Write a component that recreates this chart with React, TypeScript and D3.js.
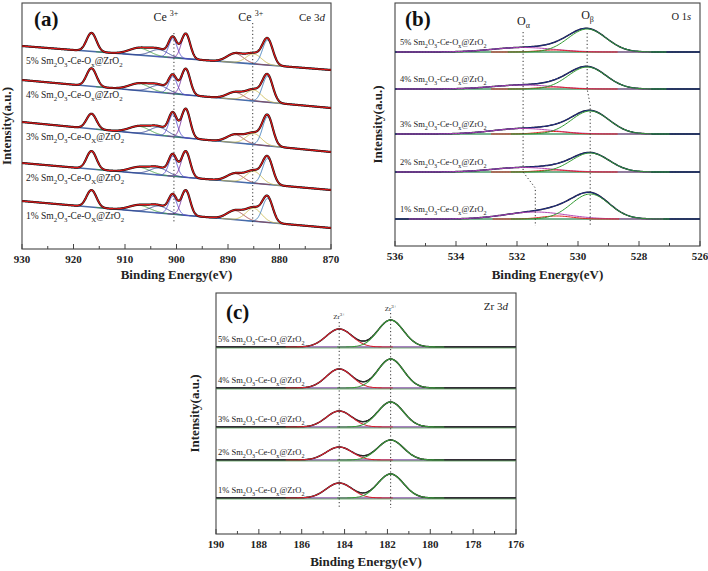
import React from "react";
import * as d3 from "d3";

const FONT = "Liberation Serif, DejaVu Serif, serif";

const samples = ["5%", "4%", "3%", "2%", "1%"];
const ceSubX = ["x", "x", "X", "X", "X"];

// ---------- (a) Ce 3d ----------
const ceTicks = [930, 920, 910, 900, 890, 880, 870];
const ceMinor = [925, 915, 905, 895, 885, 875];
const ceCenters = [916.5, 907.2, 903.4, 900.7, 898.2, 888.6, 885.0, 882.3];
const ceSigmas = [0.95, 2.0, 1.7, 0.8, 0.85, 1.6, 1.5, 1.0];
const ceColors = ["#c23fb8", "#3f9f3f", "#2f3f8f", "#5a4fd0", "#7a2f9f", "#9f3f3f", "#c8b84a", "#3a78b8"];
const ceHeights = [
  [18.5, 7, 7, 19, 25, 9, 10, 25],
  [18, 7, 7, 17, 26, 7, 11, 26],
  [15, 7, 8, 22, 29, 8, 11, 29],
  [18, 6, 7, 20, 26, 8, 12, 26],
  [17, 6, 7, 18, 25, 9, 13, 24],
];
const ceBaseHigh = [203, 169, 127, 86, 48];
const ceBaseLow = [179, 141, 97, 59, 21];
const ceDotted = [900.5, 885.2];

// ---------- (b) O 1s ----------
const oTicks = [536, 534, 532, 530, 528, 526];
const oMinor = [535, 533, 531, 529, 527];
const oBase = [194, 157, 112, 74, 27];
const oBetaCenter = [529.7, 529.7, 529.6, 529.6, 529.6];
const oBetaHeight = [23, 22, 23, 19, 25];
const oAlphaCenter = [531.8, 531.8, 531.8, 531.8, 531.4];
const oAlphaHeight = [4.5, 4, 5.5, 4.5, 7];
const oMidCenter = [530.8, 530.8, 530.8, 530.8, 530.7];
const oMidHeight = [2, 2, 2.5, 2, 3];

// ---------- (c) Zr 3d ----------
const zrTicks = [190, 188, 186, 184, 182, 180, 178, 176];
const zrMinor = [189, 187, 185, 183, 181, 179, 177];
const zrBase = [187, 146, 107, 74, 36];
const zr32Center = 184.25;
const zr52Center = 181.85;
const zr32Height = [18, 19, 16, 13, 15];
const zr52Height = [27, 29, 25, 20, 24];

type Comp = { c: number; s: number; h: number; color: string };

const gauss = (e: number, c: Comp) => c.h * Math.exp(-((e - c.c) ** 2) / (2 * c.s * c.s));

function Spectrum(props: {
  xs: d3.ScaleLinear<number, number>;
  ys: d3.ScaleLinear<number, number>;
  eHigh: number;
  eLow: number;
  b0: number;
  b1: number;
  comps: Comp[];
  baseColor: string;
  baseWidth: number;
  fitColor: string;
  fitWidth: number;
  dataWidth: number;
  compWidth: number;
  compsOnTop?: boolean;
}) {
  const { xs, ys, eHigh, eLow, b0, b1, comps } = props;
  const base = (e: number) => b0 + ((b1 - b0) * (eHigh - e)) / (eHigh - eLow);
  const grid = d3.range(eLow, eHigh + 0.001, 0.05);
  const total = (e: number) => base(e) + comps.reduce((a, c) => a + gauss(e, c), 0);
  const line = d3
    .line<number>()
    .x((e) => xs(e))
    .y((e) => ys(total(e)));
  const compPaths = comps.map((c, i) => {
    const g = grid.filter((e) => Math.abs(e - c.c) < 4.2 * c.s);
    const l = d3
      .line<number>()
      .x((e) => xs(e))
      .y((e) => ys(base(e) + gauss(e, c)));
    return <path key={i} d={l(g) || ""} fill="none" stroke={c.color} strokeWidth={props.compWidth} />;
  });
  return (
    <g>
      <line x1={xs(eHigh)} x2={xs(eLow)} y1={ys(b0)} y2={ys(b1)} stroke={props.baseColor} strokeWidth={props.baseWidth} />
      {!props.compsOnTop && compPaths}
      <path d={line(grid) || ""} fill="none" stroke="#111" strokeWidth={props.dataWidth} />
      <path d={line(grid) || ""} fill="none" stroke={props.fitColor} strokeWidth={props.fitWidth} />
      {props.compsOnTop && compPaths}
    </g>
  );
}

function SampleLabel(props: { x: number; y: number; pct: string; sub: string; fs: number }) {
  const { x, y, pct, sub, fs } = props;
  const sfs = fs * 0.72;
  const d = fs * 0.3;
  return (
    <text x={x} y={y} fontSize={fs} fontFamily={FONT} fill="#222">
      <tspan fontSize={fs}>{pct} Sm</tspan>
      <tspan fontSize={sfs} dy={d}>2</tspan>
      <tspan fontSize={fs} dy={-d}>O</tspan>
      <tspan fontSize={sfs} dy={d}>3</tspan>
      <tspan fontSize={fs} dy={-d}>-Ce-O</tspan>
      <tspan fontSize={sfs} dy={d}>{sub}</tspan>
      <tspan fontSize={fs} dy={-d}>@ZrO</tspan>
      <tspan fontSize={sfs} dy={d}>2</tspan>
    </text>
  );
}

function Axis(props: {
  xs: d3.ScaleLinear<number, number>;
  ys: d3.ScaleLinear<number, number>;
  ticks: number[];
  minor: number[];
  title: string;
  titleY: number;
  ylabelX: number;
}) {
  const { xs, ys, ticks, minor } = props;
  const [x0, x1] = xs.range();
  const [yb, yt] = ys.range();
  return (
    <g fontFamily={FONT}>
      <rect x={x0} y={yt} width={x1 - x0} height={yb - yt} fill="none" stroke="#444" strokeWidth={1.1} />
      {ticks.map((t) => (
        <g key={"t" + t}>
          <line x1={xs(t)} x2={xs(t)} y1={yb} y2={yb - 5} stroke="#444" strokeWidth={1} />
          <text x={xs(t)} y={yb + 14} fontFamily={FONT} fontSize={11} fontWeight="bold" textAnchor="middle" fill="#222">
            {t}
          </text>
        </g>
      ))}
      {minor.map((t) => (
        <line key={"m" + t} x1={xs(t)} x2={xs(t)} y1={yb} y2={yb - 3} stroke="#444" strokeWidth={1} />
      ))}
      <text x={(x0 + x1) / 2} y={props.titleY} fontFamily={FONT} fontSize={13} fontWeight="bold" textAnchor="middle" fill="#222">
        {props.title}
      </text>
      <text
        transform={`translate(${props.ylabelX},${(yb + yt) / 2}) rotate(-90)`}
        fontFamily={FONT}
        fontSize={13}
        fontWeight="bold"
        textAnchor="middle"
        fill="#222"
      >
        Intensity(a.u.)
      </text>
    </g>
  );
}

function dottedPath(
  xs: d3.ScaleLinear<number, number>,
  ys: d3.ScaleLinear<number, number>,
  centers: number[],
  bases: number[],
  top: number,
  bottom: number,
  jog: number
) {
  const pts: [number, number][] = [[centers[0], top]];
  for (let i = 1; i < centers.length; i++) {
    if (centers[i] !== centers[i - 1]) {
      pts.push([centers[i - 1], bases[i - 1]]);
      pts.push([centers[i], bases[i - 1] - jog]);
    }
  }
  pts.push([centers[centers.length - 1], bottom]);
  return (
    d3
      .line<[number, number]>()
      .x((p) => xs(p[0]))
      .y((p) => ys(p[1]))(pts) || ""
  );
}

export default function App() {
  const xa = d3.scaleLinear().domain([930, 870]).range([22, 331]);
  const ya = d3.scaleLinear().domain([0, 246]).range([249, 3]);
  const xb = d3.scaleLinear().domain([536, 526]).range([395, 700]);
  const yb = d3.scaleLinear().domain([0, 243]).range([246, 3]);
  const xc = d3.scaleLinear().domain([190, 176]).range([216, 516]);
  const yc = d3.scaleLinear().domain([0, 241]).range([534, 293]);

  const dot = { stroke: "#333", strokeWidth: 1, strokeDasharray: "1.2,2.4", fill: "none" };

  return (
    <svg
      width={708}
      height={571}
      fontFamily={FONT}
      style={{ position: "absolute", left: 0, top: 0, background: "#fff", fontFamily: FONT }}
    >
      {/* ---------- (a) ---------- */}
      <Axis xs={xa} ys={ya} ticks={ceTicks} minor={ceMinor} title="Binding Energy(eV)" titleY={279} ylabelX={11} />
      {samples.map((s, i) => (
        <Spectrum
          key={"a" + s}
          xs={xa}
          ys={ya}
          eHigh={930}
          eLow={870}
          b0={ceBaseHigh[i]}
          b1={ceBaseLow[i]}
          comps={ceCenters.map((c, k) => ({ c, s: ceSigmas[k], h: ceHeights[i][k], color: ceColors[k] }))}
          baseColor="#4a6aa8"
          baseWidth={1.6}
          fitColor="#e01818"
          fitWidth={1.2}
          dataWidth={2.2}
          compWidth={0.9}
        />
      ))}
      {samples.map((s, i) => (
        <SampleLabel key={"la" + s} x={26} y={ya(ceBaseHigh[i]) + 18} pct={s} sub={ceSubX[i]} fs={9.5} />
      ))}
      <line x1={xa(ceDotted[0])} x2={xa(ceDotted[0])} y1={ya(216)} y2={ya(27)} {...dot} />
      <line x1={xa(ceDotted[1])} x2={xa(ceDotted[1])} y1={ya(226)} y2={ya(22)} {...dot} />
      <text x={34} y={26} fontFamily={FONT} fontSize={21} fontWeight="bold" fill="#111">(a)</text>
      <text x={xa(ceDotted[0]) - 8} y={21} fontFamily={FONT} fontSize={12} fill="#222" textAnchor="middle">
        Ce <tspan fontSize={8} dy={-5}>3+</tspan>
      </text>
      <text x={xa(ceDotted[1]) - 2} y={21} fontFamily={FONT} fontSize={12} fill="#222" textAnchor="middle">
        Ce <tspan fontSize={8} dy={-5}>3+</tspan>
      </text>
      <text x={325} y={21} fontFamily={FONT} fontSize={11} fill="#222" textAnchor="end">
        Ce 3<tspan fontStyle="italic">d</tspan>
      </text>

      {/* ---------- (b) ---------- */}
      <Axis xs={xb} ys={yb} ticks={oTicks} minor={oMinor} title="Binding Energy(eV)" titleY={279} ylabelX={382} />
      {samples.map((s, i) => (
        <Spectrum
          key={"b" + s}
          xs={xb}
          ys={yb}
          eHigh={536}
          eLow={526}
          b0={oBase[i]}
          b1={oBase[i]}
          comps={[
            { c: oAlphaCenter[i], s: 1.0, h: oAlphaHeight[i], color: "#b040b0" },
            { c: oMidCenter[i], s: 0.5, h: oMidHeight[i], color: "#e02020" },
            { c: oBetaCenter[i], s: 0.62, h: oBetaHeight[i], color: "#2f9a2f" },
          ]}
          baseColor="#4a9a6a"
          baseWidth={1.3}
          fitColor="#2838b8"
          fitWidth={0.8}
          dataWidth={1.5}
          compWidth={1}
          compsOnTop
        />
      ))}
      {samples.map((s, i) => (
        <SampleLabel key={"lb" + s} x={400} y={yb(oBase[i]) - 7} pct={s} sub="x" fs={8.5} />
      ))}
      <path d={dottedPath(xb, yb, oAlphaCenter, oBase, 214, 20, 16)} {...dot} />
      <path d={dottedPath(xb, yb, oBetaCenter, oBase, 213, 20, 16)} {...dot} />
      <text x={405} y={26} fontFamily={FONT} fontSize={21} fontWeight="bold" fill="#111">(b)</text>
      <text x={xb(oAlphaCenter[0]) - 6} y={25} fontFamily={FONT} fontSize={12} fill="#222">
        O<tspan fontSize={8} dy={3}>α</tspan>
      </text>
      <text x={xb(oBetaCenter[0]) - 6} y={19} fontFamily={FONT} fontSize={12} fill="#222">
        O<tspan fontSize={8} dy={3}>β</tspan>
      </text>
      <text x={691} y={20} fontFamily={FONT} fontSize={10.5} fill="#222" textAnchor="end">
        O 1<tspan fontStyle="italic">s</tspan>
      </text>

      {/* ---------- (c) ---------- */}
      <Axis xs={xc} ys={yc} ticks={zrTicks} minor={zrMinor} title="Binding Energy(eV)" titleY={566} ylabelX={199} />
      {samples.map((s, i) => (
        <Spectrum
          key={"c" + s}
          xs={xc}
          ys={yc}
          eHigh={190}
          eLow={176}
          b0={zrBase[i]}
          b1={zrBase[i]}
          comps={[
            { c: zr32Center, s: 0.6, h: zr32Height[i], color: "#d82030" },
            { c: zr52Center, s: 0.6, h: zr52Height[i], color: "#3a9a3a" },
          ]}
          baseColor="#8a5aa8"
          baseWidth={1.3}
          fitColor="#333"
          fitWidth={0.8}
          dataWidth={1.5}
          compWidth={1.1}
          compsOnTop
        />
      ))}
      {samples.map((s, i) => (
        <line
          key={"gc" + s}
          x1={216}
          x2={516}
          y1={yc(zrBase[i]) + 1}
          y2={yc(zrBase[i]) + 1}
          stroke="#5aa05a"
          strokeWidth={0.8}
        />
      ))}
      {samples.map((s, i) => (
        <SampleLabel key={"lc" + s} x={218} y={yc(zrBase[i]) - 5} pct={s} sub="x" fs={8.5} />
      ))}
      <line x1={xc(zr32Center)} x2={xc(zr32Center)} y1={yc(212)} y2={yc(27)} {...dot} />
      <line x1={xc(zr52Center)} x2={xc(zr52Center)} y1={yc(221)} y2={yc(26)} {...dot} />
      <text x={226} y={319} fontFamily={FONT} fontSize={21} fontWeight="bold" fill="#111">(c)</text>
      <text x={xc(zr32Center)} y={319} fontFamily={FONT} fontSize={7} fill="#222" textAnchor="middle">
        Zr<tspan fontSize={5} dy={-3}>3+</tspan>
      </text>
      <text x={xc(zr52Center)} y={311} fontFamily={FONT} fontSize={7} fill="#222" textAnchor="middle">
        Zr<tspan fontSize={5} dy={-3}>3+</tspan>
      </text>
      <text x={508} y={310} fontFamily={FONT} fontSize={11} fill="#222" textAnchor="end">
        Zr 3<tspan fontStyle="italic">d</tspan>
      </text>
    </svg>
  );
}
